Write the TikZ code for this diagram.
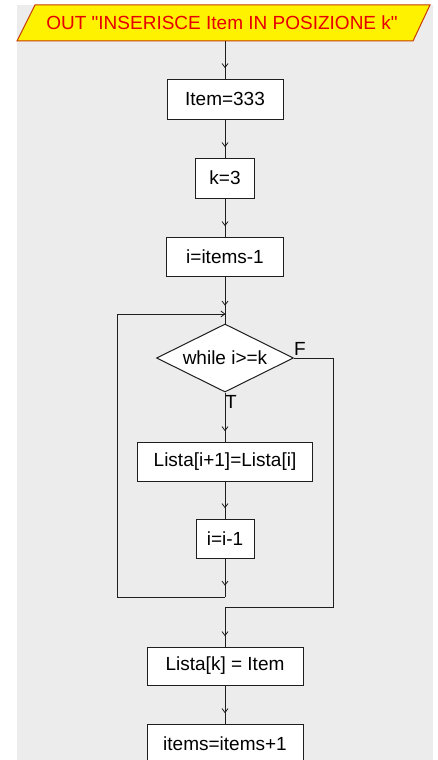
\documentclass[tikz,border=0pt]{standalone}
\usepackage{fontspec}
\setmainfont{Liberation Sans}
\usetikzlibrary{shapes.geometric,decorations.markings}
\definecolor{bg}{RGB}{236,236,236}
\definecolor{ttl}{RGB}{230,0,0}
\definecolor{pbord}{RGB}{200,60,0}
\definecolor{ln}{RGB}{30,30,30}
\begin{document}
\begin{tikzpicture}[x=1pt,y=-1pt,
  txt/.style={font=\fontsize{19}{22}\selectfont},
  box/.style={txt,draw=ln,fill=white,line width=1pt,inner sep=0pt},
  cond/.style={txt,diamond,aspect=2,draw=ln,fill=white,line width=1pt,inner sep=0pt,minimum width=137pt,minimum height=68pt},
  wire/.style={draw=ln,line width=1pt},
  chev/.style={postaction={decorate},decoration={markings,mark=at position #1 with {\draw[ln,line width=0.8pt] (-4pt,-3pt)--(0pt,0pt)--(-4pt,3pt);}}},
  lbl/.style={txt,inner sep=0pt}]
\useasboundingbox (0,0) rectangle (437,760);
\fill[white] (0,0) rectangle (437,760);
\fill[bg] (17,5) rectangle (433,760);
\draw[pbord,fill=yellow,line width=1pt] (35,5) -- (430,5) -- (413,41) -- (17,41) -- cycle;
\node[lbl,text=ttl] (title) at (222,23) {OUT \textquotedbl INSERISCE Item IN POSIZIONE k\textquotedbl};
\coordinate (tout) at (225,41);
\node[box,minimum width=116pt,minimum height=40pt] (item) at (225,99) {Item=333};
\node[box,minimum width=59pt,minimum height=40pt] (k) at (225,178) {k=3};
\node[box,minimum width=117pt,minimum height=39pt] (i) at (225,256.5) {i=items-1};
\node[cond] (w) at (225,358) {while i>=k};
\node[box,minimum width=175pt,minimum height=39pt] (l1) at (225,461.5) {Lista[i+1]=Lista[i]};
\node[box,minimum width=58pt,minimum height=39pt] (dec) at (225,538.5) {i=i-1};
\node[box,minimum width=156pt,minimum height=38pt] (lk) at (225,666) {Lista[k] = Item};
\node[box,minimum width=156pt,minimum height=40pt] (inc) at (225,744) {items=items+1};
\node[lbl] (flab) at (300,348.5) {F};
\node[lbl] (tlab) at (231,401.5) {T};
\coordinate (lt) at (225,314);
\coordinate (lb) at (225,597);
\coordinate (fb) at (225,607);
\draw[wire,chev=-11pt] (tout) -- (item);
\draw[wire,chev=-11pt] (item) -- (k);
\draw[wire,chev=-11pt] (k) -- (i);
\draw[wire,chev=-9pt] (i) -- (lt);
\draw[wire] (lt) -- (w);
\draw[wire,chev=-11pt] (w) -- (l1);
\draw[wire,chev=-11pt] (l1) -- (dec);
\draw[wire,chev=-12pt] (dec) -- (lb);
\draw[wire,chev=-0.2pt] (lb) -- ++(-108,0) |- (lt);
\draw[wire] (w.east) -- ++(39,0) |- (fb);
\draw[wire,chev=-11pt] (fb) -- (lk);
\draw[wire,chev=-11pt] (lk) -- (inc);
\end{tikzpicture}
\end{document}
